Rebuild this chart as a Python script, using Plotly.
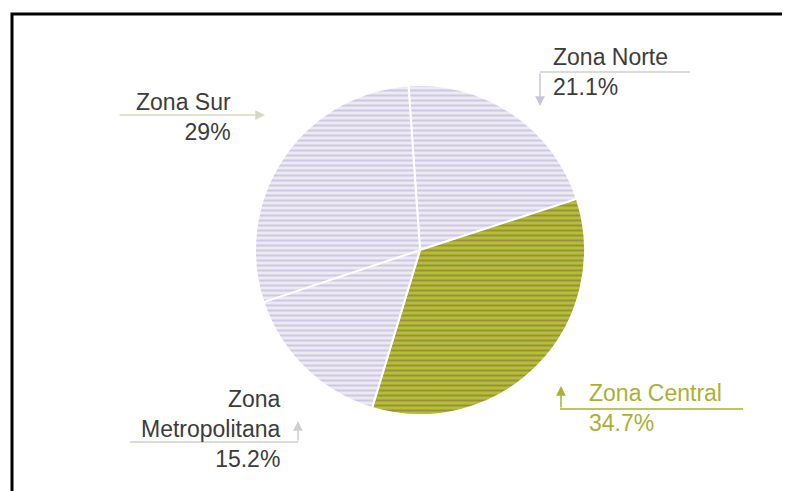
import plotly.graph_objects as go

# datos del grafico
zonas = ["Zona Norte", "Zona Central", "Zona Metropolitana", "Zona Sur"]
porcentajes = [21.1, 34.7, 15.2, 29]

W, H = 790, 491
OFF = 8  # margen del body en la pagina


def px(x):
    return (x - OFF) / W


def py(y):
    return 1 - (y - OFF) / H


lila = dict(bg="#ecebf1", fg="#cfc8e5")
verde = dict(bg="#b2c22e", fg="#9c8c48")
estilos = [lila, verde, lila, lila]

fig = go.Figure()
fig.add_trace(go.Pie(
    labels=zonas,
    values=porcentajes,
    sort=False,
    direction="clockwise",
    rotation=-4,
    textinfo="none",
    hoverinfo="label+percent",
    showlegend=False,
    domain=dict(x=[px(255), px(585)], y=[py(415), py(85)]),
    marker=dict(
        colors=[e["bg"] for e in estilos],
        line=dict(color="white", width=2),
        pattern=dict(
            shape="-",
            fgcolor=[e["fg"] for e in estilos],
            bgcolor=[e["bg"] for e in estilos],
            size=5,
            solidity=0.4,
        ),
    ),
))

gris = "#3c3c3c"
linea = "#cfcfcf"
verde_txt = "#a9b133"


def texto(i):
    nombre = zonas[i]
    if len(nombre) > 12:
        nombre = nombre.replace(" ", "<br>")
    return f"{nombre}<br>{porcentajes[i]:g}%"


# posiciones de etiquetas (x, y, anchor, color)
pos = [
    (551, 72, "left", gris),
    (587, 408, "left", verde_txt),
    (283, 429, "right", gris),
    (233, 117, "right", gris),
]

for i, (x, y, anc, col) in enumerate(pos):
    fig.add_annotation(
        x=px(x), y=py(y), xref="paper", yref="paper",
        text=texto(i), showarrow=False,
        xanchor=anc, yanchor="middle", align=anc,
        font=dict(family="Liberation Sans, Arial", size=23, color=col),
    )

# lineas guia
guias = [
    (540, 72, 690, 72, linea),
    (560, 409, 743, 409, verde_txt),
    (130, 442, 298, 442, linea),
]
for x0, y0, x1, y1, c in guias:
    fig.add_shape(type="line", xref="paper", yref="paper",
                  x0=px(x0), y0=py(y0), x1=px(x1), y1=py(y1),
                  line=dict(color=c, width=1.5))

# flechas
flechas = [
    (540, 106, 0, -34, "#c8c4dc"),
    (561, 386, 0, 23, verde_txt),
    (298, 421, 0, 21, linea),
    (265, 115, -147, 0, "#d6d8c0"),
]
for x, y, ax, ay, c in flechas:
    fig.add_annotation(
        x=px(x), y=py(y), xref="paper", yref="paper",
        ax=ax, ay=ay, text="", showarrow=True,
        arrowhead=2, arrowsize=1.3, arrowwidth=1.5, arrowcolor=c,
    )

# marco
fig.add_shape(type="rect", xref="paper", yref="paper",
              x0=px(12), y0=py(14), x1=px(800), y1=py(500),
              line=dict(color="black", width=3))

fig.update_layout(
    width=W, height=H,
    margin=dict(l=0, r=0, t=0, b=0),
    paper_bgcolor="white",
    plot_bgcolor="white",
)

fig.write_html("out.html")
